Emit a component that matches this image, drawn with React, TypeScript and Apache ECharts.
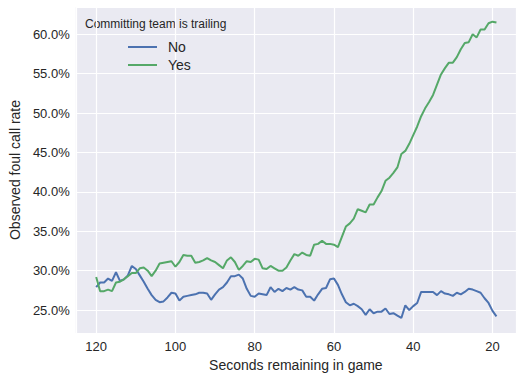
import React, { useEffect, useRef } from "react";
import * as echarts from "echarts";

const seconds = [
  120, 119, 118, 117, 116, 115, 114, 113, 112, 111,
  110, 109, 108, 107, 106, 105, 104, 103, 102, 101,
  100, 99, 98, 97, 96, 95, 94, 93, 92, 91,
  90, 89, 88, 87, 86, 85, 84, 83, 82, 81,
  80, 79, 78, 77, 76, 75, 74, 73, 72, 71,
  70, 69, 68, 67, 66, 65, 64, 63, 62, 61,
  60, 59, 58, 57, 56, 55, 54, 53, 52, 51,
  50, 49, 48, 47, 46, 45, 44, 43, 42, 41,
  40, 39, 38, 37, 36, 35, 34, 33, 32, 31,
  30, 29, 28, 27, 26, 25, 24, 23, 22, 21,
  20, 19,
];

const noRate = [
  27.9, 28.5, 28.5, 29.0, 28.7, 29.8, 28.7, 28.9, 29.4, 30.6,
  30.2, 29.4, 28.6, 27.7, 26.9, 26.3, 26.0, 26.1, 26.6, 27.2,
  27.1, 26.2, 26.7, 26.8, 26.9, 27.0, 27.2, 27.2, 27.1, 26.3,
  27.0, 27.6, 27.9, 28.5, 29.3, 29.3, 29.5, 29.0, 27.7, 26.8,
  26.7, 27.1, 27.0, 26.9, 27.9, 27.3, 27.7, 27.4, 27.8, 27.6,
  27.9, 27.6, 27.5, 26.7, 26.7, 26.2, 27.0, 27.7, 27.8, 28.9,
  29.0, 28.2, 27.0, 26.0, 25.6, 25.8, 25.5, 25.1, 24.4, 25.1,
  24.6, 24.8, 24.8, 25.2, 24.5, 24.6, 24.3, 24.0, 25.6, 25.0,
  25.5, 25.9, 27.3, 27.3, 27.3, 27.3, 26.9, 27.4, 27.1, 27.0,
  26.8, 27.2, 27.0, 27.3, 27.7, 27.6, 27.4, 27.2, 26.5, 25.9,
  24.9, 24.2,
];

const yesRate = [
  29.2, 27.4, 27.4, 27.6, 27.4, 28.5, 28.6, 28.9, 29.3, 29.7,
  29.7, 30.3, 30.4, 30.0, 29.3, 30.0, 30.9, 31.0, 31.1, 31.2,
  30.5, 31.1, 32.0, 31.9, 31.9, 31.0, 31.1, 31.3, 31.6, 31.3,
  31.1, 30.7, 30.3, 31.3, 31.7, 31.1, 30.1, 30.6, 31.2, 31.1,
  31.5, 31.4, 30.3, 30.2, 30.6, 30.3, 30.0, 30.0, 30.4, 31.3,
  32.1, 31.9, 32.3, 32.0, 31.9, 33.3, 33.4, 33.8, 33.4, 33.4,
  33.3, 33.0, 34.3, 35.6, 36.0, 36.6, 37.8, 37.6, 37.4, 38.4,
  38.4, 39.3, 40.1, 41.4, 41.8, 42.4, 43.1, 44.8, 45.2, 46.1,
  47.2, 48.3, 49.6, 50.6, 51.4, 52.3, 53.6, 54.9, 55.7, 56.4,
  56.4, 57.1, 58.1, 58.9, 59.0, 60.0, 59.6, 60.6, 60.6, 61.4,
  61.6, 61.5,
];

const seriesNames = ["No", "Yes"];
const legendTitle = "Committing team is trailing";
const xAxisTitle = "Seconds remaining in game";
const yAxisTitle = "Observed foul call rate";

const FONT = "'Liberation Sans', Arial, sans-serif";
const TEXT = "#262626";

export default function App() {
  const ref = useRef<HTMLDivElement>(null);

  useEffect(() => {
    document.body.style.margin = "0";
    if (!ref.current) return;
    const chart = echarts.init(ref.current, undefined, { renderer: "svg" });
    const isMultiple = (v: number, step: number) =>
      Math.abs(v - Math.round(v / step) * step) < 1e-6;

    chart.setOption({
      animation: false,
      backgroundColor: "#ffffff",
      textStyle: { fontFamily: FONT },
      grid: {
        left: 72,
        right: 9,
        top: 7,
        bottom: 46,
        show: true,
        backgroundColor: "#EAEAF2",
        borderWidth: 0,
        containLabel: false,
      },
      legend: {
        orient: "vertical",
        left: 123,
        top: 35,
        itemWidth: 29,
        itemHeight: 2,
        itemGap: 4,
        icon: "rect",
        data: seriesNames,
        textStyle: {
          fontSize: 14,
          color: TEXT,
          fontFamily: FONT,
          padding: [0, 0, 0, 6],
        },
      },
      graphic: [
        {
          type: "text",
          left: 85,
          top: 18,
          style: {
            text: legendTitle,
            fontSize: 12,
            fill: TEXT,
            fontFamily: FONT,
          },
        },
      ],
      xAxis: {
        type: "value",
        inverse: true,
        min: 14.07,
        max: 125.15,
        splitNumber: 5,
        name: xAxisTitle,
        nameLocation: "middle",
        nameGap: 25,
        nameTextStyle: { fontSize: 14, color: TEXT, fontFamily: FONT },
        axisLine: { show: false },
        axisTick: { show: false },
        axisLabel: {
          fontSize: 13,
          color: TEXT,
          margin: 7,
          fontFamily: FONT,
          formatter: (v: number) => (isMultiple(v, 20) ? String(Math.round(v)) : ""),
        },
        splitLine: { show: true, lineStyle: { color: "#ffffff", width: 1.2 } },
      },
      yAxis: {
        type: "value",
        min: 22.09,
        max: 63.46,
        splitNumber: 8,
        name: yAxisTitle,
        nameLocation: "middle",
        nameGap: 52,
        nameTextStyle: { fontSize: 14, color: TEXT, fontFamily: FONT },
        axisLine: { show: false },
        axisTick: { show: false },
        axisLabel: {
          fontSize: 13,
          color: TEXT,
          margin: 6,
          fontFamily: FONT,
          formatter: (v: number) => (isMultiple(v, 5) ? `${v.toFixed(1)}%` : ""),
        },
        splitLine: { show: true, lineStyle: { color: "#ffffff", width: 1.2 } },
      },
      series: [
        {
          name: seriesNames[0],
          type: "line",
          data: seconds.map((s, i) => [s, noRate[i]]),
          showSymbol: false,
          symbol: "none",
          color: "#4C72B0",
          lineStyle: { width: 2, color: "#4C72B0" },
        },
        {
          name: seriesNames[1],
          type: "line",
          data: seconds.map((s, i) => [s, yesRate[i]]),
          showSymbol: false,
          symbol: "none",
          color: "#55A868",
          lineStyle: { width: 2, color: "#55A868" },
        },
      ],
    });

    return () => chart.dispose();
  }, []);

  return <div ref={ref} style={{ width: 525, height: 379 }} />;
}
